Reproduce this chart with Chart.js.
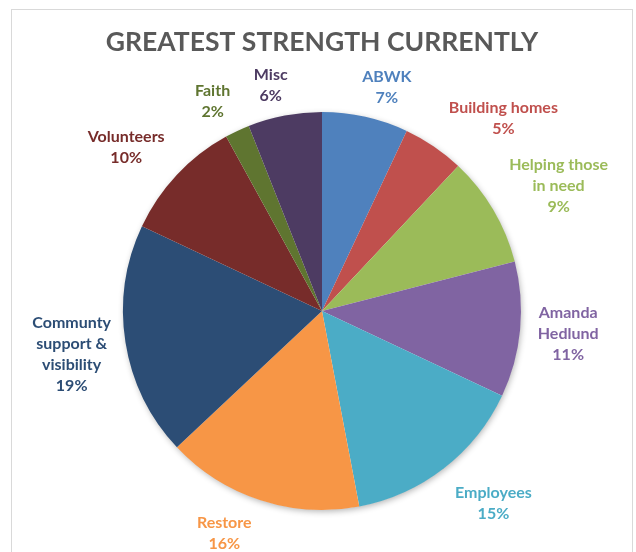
<!DOCTYPE html>
<html>
<head>
<meta charset="utf-8">
<script src="https://cdn.jsdelivr.net/npm/chart.js@4.4.0/dist/chart.umd.min.js"></script>
<style>
  html, body { margin: 0; padding: 0; background: #ffffff; }
  #wrap { position: relative; width: 636px; height: 552px; overflow: hidden; }
  #frame { position: absolute; left: 11px; top: 9px; width: 622px; height: 600px; border: 1px solid #d9d9d9; box-sizing: border-box; pointer-events: none; }
  canvas { position: absolute; left: 0; top: 0; }
</style>
</head>
<body>
<div id="wrap">
  <canvas id="c" width="636" height="552"></canvas>
  <div id="frame"></div>
</div>
<script>
const titleText = 'GREATEST STRENGTH CURRENTLY';
const categories = ['ABWK', 'Building homes', 'Helping those in need', 'Amanda Hedlund', 'Employees', 'Restore', 'Communty support & visibility', 'Volunteers', 'Faith', 'Misc'];
const values = [7, 5, 9, 11, 15, 16, 19, 10, 2, 6];
const labelLines = [['ABWK'], ['Building homes'], ['Helping those', 'in need'], ['Amanda', 'Hedlund'], ['Employees'], ['Restore'], ['Communty', 'support &', 'visibility'], ['Volunteers'], ['Faith'], ['Misc']];
const sliceColors = ['#4F81BD', '#C0504D', '#9BBB59', '#8064A2', '#4BACC6', '#F79646', '#2C4D75', '#772C2A', '#5F7530', '#4D3B62'];
const textColors = ['#4F81BD', '#C0504D', '#9BBB59', '#8064A2', '#4BACC6', '#F79646', '#2C4D75', '#772C2A', '#5F7530', '#4D3B62'];

const LABEL_FONT = 'bold 16px Lato';
const LINE_H = 21;
const GAP = 8;
// Excel "best fit" label nudges relative to the radial placement
const labelNudge = [[14, 4], [38, 18], [8, 10], [7, 0], [20, -3], [-25, -2], [-1, 4], [-14, 7], [-10, 2], [-8, 1]];

const shadowPlugin = {
  id: 'pieShadow',
  beforeDatasetsDraw(chart) {
    const arc = chart.getDatasetMeta(0).data[0];
    if (!arc) return;
    const ctx = chart.ctx;
    ctx.save();
    ctx.shadowColor = 'rgba(0,0,0,0.30)';
    ctx.shadowBlur = 6;
    ctx.shadowOffsetX = 1;
    ctx.shadowOffsetY = 2;
    ctx.fillStyle = '#ffffff';
    ctx.beginPath();
    ctx.arc(arc.x, arc.y, arc.outerRadius - 0.5, 0, Math.PI * 2);
    ctx.fill();
    ctx.restore();
  }
};

const outsideLabels = {
  id: 'outsideLabels',
  afterDatasetsDraw(chart) {
    const ctx = chart.ctx;
    const meta = chart.getDatasetMeta(0);
    const total = values.reduce((a, b) => a + b, 0);
    ctx.save();
    ctx.font = LABEL_FONT;
    ctx.textAlign = 'center';
    ctx.textBaseline = 'middle';
    meta.data.forEach((arc, i) => {
      const lines = labelLines[i].concat([Math.round(values[i] / total * 100) + '%']);
      const w = Math.max(...lines.map(l => ctx.measureText(l).width));
      const h = lines.length * LINE_H;
      const mid = (arc.startAngle + arc.endAngle) / 2;
      const dx = Math.cos(mid), dy = Math.sin(mid);
      const ext = Math.abs(dx) * w / 2 + Math.abs(dy) * h / 2;
      const dist = arc.outerRadius + GAP + ext;
      const cx = arc.x + dx * dist + labelNudge[i][0];
      const cy = arc.y + dy * dist + labelNudge[i][1];
      ctx.fillStyle = textColors[i];
      lines.forEach((l, k) => {
        ctx.fillText(l, cx, cy - h / 2 + LINE_H / 2 + k * LINE_H);
      });
    });
    ctx.restore();
  }
};

new Chart(document.getElementById('c'), {
  type: 'pie',
  data: {
    labels: categories,
    datasets: [{
      data: values,
      backgroundColor: sliceColors,
      borderWidth: 0
    }]
  },
  options: {
    responsive: false,
    animation: false,
    layout: { padding: { left: 8, right: 0, top: 0, bottom: 42 } },
    plugins: {
      legend: { display: false },
      tooltip: { enabled: false },
      title: {
        display: true,
        text: titleText,
        color: '#595959',
        font: { family: 'Lato', size: 26.5, weight: 'bold', lineHeight: 1.2 },
        padding: { top: 26.6, bottom: 53.6 }
      }
    }
  },
  plugins: [shadowPlugin, outsideLabels]
});
</script>
</body>
</html>
